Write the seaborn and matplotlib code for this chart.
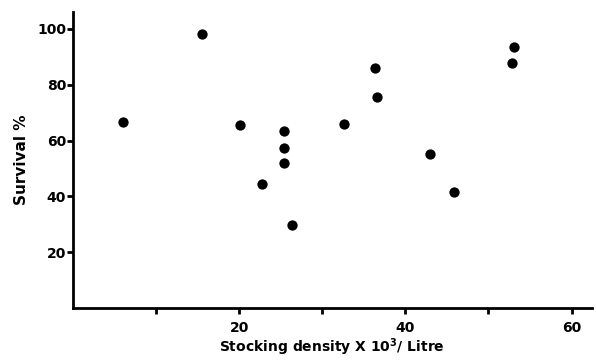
import matplotlib
matplotlib.use("Agg")
import matplotlib.pyplot as plt
import seaborn as sns
import pandas as pd

# Values
stocking_density = [6.0, 15.5, 20.1, 22.7, 25.4, 25.4, 25.4, 26.4, 32.6, 36.3, 36.6, 43.0, 45.9, 52.8, 53.1]
survival_pct = [66.7, 98.0, 65.5, 44.5, 63.4, 57.2, 51.9, 29.6, 66.0, 85.9, 75.5, 55.3, 41.6, 87.8, 93.5]

x_major = [20, 40, 60]
x_minor = [10, 30, 50]
y_ticks = [20, 40, 60, 80, 100]

sns.set_theme(style="ticks")
plt.rcParams["font.family"] = ["DejaVu Sans"]
plt.rcParams["text.color"] = "black"
plt.rcParams["axes.labelcolor"] = "black"
plt.rcParams["xtick.color"] = "black"
plt.rcParams["ytick.color"] = "black"

df = pd.DataFrame({"density": stocking_density, "survival": survival_pct})

fig = plt.figure(figsize=(5.96, 3.6), dpi=100)
ax = fig.add_axes([0.1225, 0.1444, 0.87, 0.822])

sns.scatterplot(data=df, x="density", y="survival", ax=ax, color="black",
                s=55, edgecolor="black", linewidth=0)

ax.set_xlim(0, 62.4)
ax.set_ylim(0, 106)
sns.despine(ax=ax)
for side in ["left", "bottom"]:
    ax.spines[side].set_linewidth(2)
    ax.spines[side].set_color("black")

ax.set_xticks(x_major)
ax.set_xticks(x_minor, minor=True)
ax.set_yticks(y_ticks)
ax.tick_params(axis="both", which="both", direction="out", width=2, color="black")
ax.tick_params(axis="x", which="major", length=4, pad=5)
ax.tick_params(axis="x", which="minor", length=4)
ax.tick_params(axis="y", length=4, pad=1)
for lab in ax.get_xticklabels() + ax.get_yticklabels():
    lab.set_fontweight("bold")
    lab.set_fontsize(10)
    lab.set_color("black")

ax.set_xlabel("Stocking density X 10$^{\\mathbf{3}}$/ Litre", fontsize=10,
              fontweight="bold", labelpad=1, color="black")
ax.set_ylabel("Survival %", fontsize=11, fontweight="bold", labelpad=6, color="black")

fig.savefig("out.png", dpi=100)
